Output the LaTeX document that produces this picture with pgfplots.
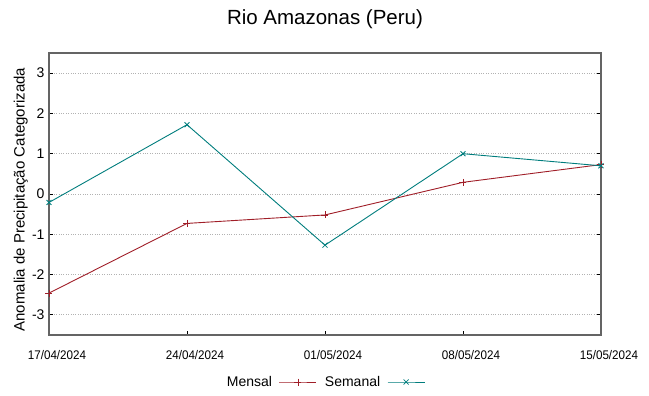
\documentclass[border=0pt]{standalone}
\usepackage{fontspec}
\setmainfont{Liberation Sans}
\newfontfamily\narrowfont[FakeStretch=0.93]{Liberation Sans}
\usepackage{pgfplots}
\pgfplotsset{compat=1.18}
\definecolor{mensal}{RGB}{160,30,40}
\definecolor{semanal}{RGB}{0,125,125}
\definecolor{framegray}{RGB}{100,100,100}
\begin{document}
\begin{tikzpicture}
\useasboundingbox (0,0) rectangle (649pt,396pt);
\begin{axis}[
  at={(49pt,61pt)}, anchor=south west,
  scale only axis, width=552pt, height=282pt,
  xmin=0, xmax=4, ymin=-3.5, ymax=3.5,
  xtick={0,1,2,3,4},
  xticklabels={17/04/2024,24/04/2024,01/05/2024,08/05/2024,15/05/2024},
  ytick={-3,-2,-1,0,1,2,3},
  /pgf/number format/assume math mode=true,
  axis line style={framegray, line width=1.3pt},
  tick align=inside, major tick length=4pt,
  tick style={black, line width=0.8pt},
  xtick pos=bottom,
  ymajorgrids, grid style={gray!60, dotted, line width=0.9pt},
  xticklabel style={font=\narrowfont\fontsize{12.5}{13}\selectfont, anchor=base, yshift=-25pt, xshift=8pt},
  yticklabel style={font=\fontsize{14}{15}\selectfont, xshift=-1pt},
  title={Rio Amazonas (Peru)},
  title style={at={(0.5,1)}, anchor=base, yshift=23pt, font=\fontsize{20.5}{22}\selectfont},
  ylabel={Anomalia de Precipitação Categorizada},
  ylabel style={at={(axis description cs:-0.051,0.48)}, anchor=center, font=\fontsize{15}{16}\selectfont},
  legend style={at={(0.5,-0.1667)}, anchor=center, draw=none, fill=none,
    font=\fontsize{14}{15}\selectfont, legend columns=2,
    /tikz/every odd column/.append style={column sep=5pt},
    /tikz/every even column/.append style={column sep=6pt}},
  legend plot pos=right,
  legend image code/.code={\draw[#1, mark repeat=2, mark phase=2] plot coordinates {(0pt,0pt) (18.5pt,0pt) (37pt,0pt)};},
]
\addplot[mensal, line width=0.9pt, mark=+, mark size=3.5pt, mark options={line width=0.8pt}] coordinates {
  (0,-2.46) (1,-0.73) (2,-0.52) (3,0.29) (4,0.73)
};
\addlegendentry{Mensal}
\addplot[semanal, line width=0.9pt, mark=x, mark size=3.5pt, mark options={line width=0.8pt}] coordinates {
  (0,-0.21) (1,1.72) (2,-1.27) (3,1.00) (4,0.70)
};
\addlegendentry{Semanal}
\end{axis}
\end{tikzpicture}
\end{document}
